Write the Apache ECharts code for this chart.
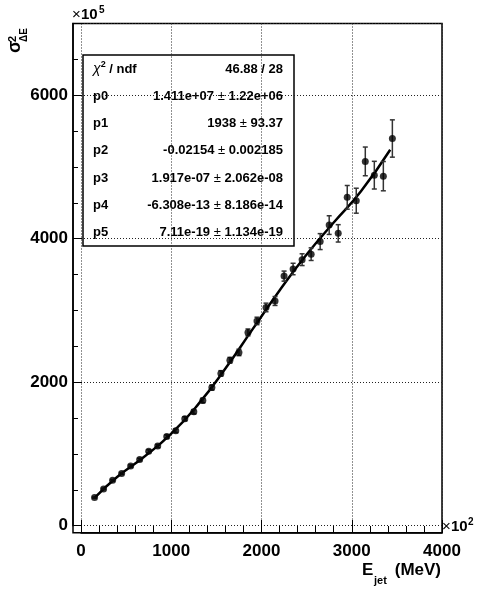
<!DOCTYPE html>
<html>
<head>
<meta charset="utf-8">
<script src="https://cdn.jsdelivr.net/npm/echarts@6/dist/echarts.min.js"></script>
<style>
  html, body { margin: 0; padding: 0; background: #fff; }
  #chart { width: 481px; height: 593px; }
</style>
</head>
<body>
<div id="chart"></div>
<script>
// measured points (x in units of 10^2 MeV, y in units of 10^5)
var energy = [150, 250, 350, 450, 550, 650, 750, 850, 950, 1050, 1150, 1250, 1350, 1450, 1550, 1650, 1750,
  1850, 1950, 2050, 2150, 2250, 2350, 2450, 2550, 2650, 2750, 2850, 2950, 3050, 3150, 3250, 3350, 3450];
var sigma2 = [392, 513, 632, 728, 832, 922, 1038, 1110, 1242, 1324, 1491, 1588, 1745, 1925, 2123, 2306, 2415,
  2694, 2854, 3042, 3132, 3479, 3578, 3708, 3785, 3960, 4190, 4075, 4577, 4530, 5078, 4886, 4872, 5397];
var sigma2Err = [8, 10, 12, 14, 16, 18, 20, 22, 24, 26, 28, 30, 32, 35, 38, 40, 45,
  48, 52, 60, 62, 70, 80, 82, 88, 111, 130, 121, 165, 174, 200, 193, 204, 260];

// fitted curve
var fitX = [150, 400, 700, 1000, 1300, 1600, 1900, 2200, 2500, 2800, 3100, 3426];
var fitY = [389, 679, 960, 1282, 1694, 2191, 2736, 3279, 3779, 4226, 4658, 5240];

var xTickLabels = [0, 1000, 2000, 3000, 4000];
var yTickLabels = [0, 2000, 4000, 6000];

var chi2Text = '46.88 / 28';
var parNames = ['p0', 'p1', 'p2', 'p3', 'p4', 'p5'];
var parValues = ['1.411e+07', '1938', '-0.02154', '1.917e-07', '-6.308e-13', '7.11e-19'];
var parErrors = ['1.22e+06', '93.37', '0.002185', '2.062e-08', '8.186e-14', '1.134e-19'];

var FONT = '"Liberation Sans", Arial, Helvetica, sans-serif';

var chart = echarts.init(document.getElementById('chart'), null, { renderer: 'canvas' });

// stats box
var boxChildren = [{
  type: 'rect',
  shape: { x: 0, y: 0, width: 211, height: 191 },
  style: { fill: '#fff', stroke: '#000', lineWidth: 1.5 }
}, {
  type: 'text', x: 10, y: 14,
  style: {
    text: '{chi|χ}{sup|2}{b| / ndf}',
    verticalAlign: 'middle',
    rich: {
      chi: { fontFamily: FONT, fontSize: 14, fontStyle: 'italic', fill: '#000' },
      sup: { fontFamily: FONT, fontSize: 9, fontWeight: 'bold', padding: [0, 0, 9, 0], fill: '#000' },
      b: { fontFamily: FONT, fontSize: 13, fontWeight: 'bold', fill: '#000' }
    }
  }
}, {
  type: 'text', x: 200, y: 14,
  style: { text: chi2Text, font: 'bold 13px ' + FONT, align: 'right', verticalAlign: 'middle', fill: '#000' }
}];
for (var i = 0; i < parNames.length; i++) {
  var ry = 41.5 + i * 27.2;
  boxChildren.push({
    type: 'text', x: 10, y: ry,
    style: { text: parNames[i], font: 'bold 13px ' + FONT, verticalAlign: 'middle', fill: '#000' }
  });
  boxChildren.push({
    type: 'text', x: 200, y: ry,
    style: {
      text: '{b|' + parValues[i] + '}{pm| ± }{b|' + parErrors[i] + '}',
      align: 'right', verticalAlign: 'middle',
      rich: {
        b: { fontFamily: FONT, fontSize: 13, fontWeight: 'bold', fill: '#000' },
        pm: { fontFamily: FONT, fontSize: 13, fill: '#000' }
      }
    }
  });
}

chart.setOption({
  animation: false,
  backgroundColor: '#fff',
  grid: [
    { left: 81, right: 39, top: 23.5, bottom: 67.3 },
    { left: 73, right: 39, top: 23.5, bottom: 60.3, show: true, borderColor: '#000', borderWidth: 1.5, backgroundColor: 'transparent' }
  ],
  xAxis: [{
    gridIndex: 0, type: 'value', min: 0, max: 4000, interval: 1000, offset: 7.3,
    axisLine: { show: true, onZero: false, lineStyle: { color: '#000', width: 1.5 } },
    axisTick: { show: true, inside: true, length: 13, lineStyle: { color: '#000', width: 1 } },
    minorTick: { show: true, splitNumber: 5, length: 7, lineStyle: { color: '#000', width: 1 } },
    splitLine: { show: true, lineStyle: { color: '#222', width: 1, type: [1, 2] } },
    axisLabel: {
      margin: 10, color: '#000', fontFamily: FONT, fontWeight: 'bold', fontSize: 17,
      showMaxLabel: true,
      formatter: function (v) { return xTickLabels.indexOf(v) >= 0 ? String(v) : ''; }
    }
  }, {
    gridIndex: 1, type: 'value', min: 0, max: 1, show: false
  }],
  yAxis: [{
    gridIndex: 0, type: 'value', min: 0, max: 7000, interval: 2000, offset: 8,
    axisLine: { show: true, onZero: false, lineStyle: { color: '#000', width: 1.5 } },
    axisTick: { show: true, inside: true, length: 9, lineStyle: { color: '#000', width: 1 } },
    minorTick: { show: true, splitNumber: 4, length: 5, lineStyle: { color: '#000', width: 1 } },
    splitLine: { show: true, lineStyle: { color: '#222', width: 1, type: [1, 2] } },
    axisLabel: {
      margin: 5, color: '#000', fontFamily: FONT, fontWeight: 'bold', fontSize: 17,
      formatter: function (v) { return yTickLabels.indexOf(v) >= 0 ? String(v) : ''; }
    }
  }, {
    gridIndex: 1, type: 'value', min: 0, max: 1, show: false
  }],
  series: [{
    name: 'fit',
    type: 'line',
    xAxisIndex: 0, yAxisIndex: 0,
    data: fitX.map(function (x, i) { return [x, fitY[i]]; }),
    smooth: true,
    symbol: 'none',
    lineStyle: { color: '#000', width: 2.5 },
    z: 3
  }, {
    name: 'errors',
    type: 'custom',
    xAxisIndex: 0, yAxisIndex: 0,
    data: energy.map(function (x, i) { return [x, sigma2[i], sigma2Err[i]]; }),
    encode: { x: 0, y: 1 },
    renderItem: function (params, api) {
      var x = api.value(0), y = api.value(1), e = api.value(2);
      var top = api.coord([x, y + e]);
      var bot = api.coord([x, y - e]);
      var hw = 2.5;
      var st = { stroke: '#333', lineWidth: 1.5 };
      return {
        type: 'group',
        children: [
          { type: 'line', shape: { x1: top[0], y1: top[1], x2: bot[0], y2: bot[1] }, style: st },
          { type: 'line', shape: { x1: top[0] - hw, y1: top[1], x2: top[0] + hw, y2: top[1] }, style: st },
          { type: 'line', shape: { x1: bot[0] - hw, y1: bot[1], x2: bot[0] + hw, y2: bot[1] }, style: st }
        ]
      };
    },
    z: 4
  }, {
    name: 'data',
    type: 'scatter',
    xAxisIndex: 0, yAxisIndex: 0,
    data: energy.map(function (x, i) { return [x, sigma2[i]]; }),
    symbol: 'circle',
    symbolSize: 7,
    itemStyle: { color: '#000' },
    z: 5
  }],
  graphic: [
    { type: 'group', x: 83, y: 55, z: 10, children: boxChildren },
    // y axis exponent
    { type: 'text', x: 72, y: 22, style: { text: '×', font: '15px ' + FONT, verticalAlign: 'bottom', fill: '#000' } },
    { type: 'text', x: 81, y: 22, style: { text: '10', font: 'bold 15px ' + FONT, verticalAlign: 'bottom', fill: '#000' } },
    { type: 'text', x: 99, y: 15, style: { text: '5', font: 'bold 10px ' + FONT, verticalAlign: 'bottom', fill: '#000' } },
    // x axis exponent
    { type: 'text', x: 442, y: 534, style: { text: '×', font: '15px ' + FONT, verticalAlign: 'bottom', fill: '#000' } },
    { type: 'text', x: 451, y: 534, style: { text: '10', font: 'bold 15px ' + FONT, verticalAlign: 'bottom', fill: '#000' } },
    { type: 'text', x: 468, y: 527, style: { text: '2', font: 'bold 10px ' + FONT, verticalAlign: 'bottom', fill: '#000' } },
    // x axis title
    { type: 'text', x: 362, y: 579, style: { text: 'E', font: 'bold 17px ' + FONT, verticalAlign: 'bottom', fill: '#000' } },
    { type: 'text', x: 374, y: 586, style: { text: 'jet', font: 'bold 11px ' + FONT, verticalAlign: 'bottom', fill: '#000' } },
    { type: 'text', x: 441, y: 579, style: { text: '(MeV)', font: 'bold 17px ' + FONT, align: 'right', verticalAlign: 'bottom', fill: '#000' } },
    // y axis title, rotated
    {
      type: 'group', x: 24, y: 53, rotation: Math.PI / 2,
      children: [
        { type: 'text', x: 0, y: 0, style: { text: 'σ', font: 'bold 18px ' + FONT, verticalAlign: 'bottom', fill: '#000' } },
        { type: 'text', x: 11, y: -6, style: { text: '2', font: 'bold 11px ' + FONT, verticalAlign: 'bottom', fill: '#000' } },
        { type: 'text', x: 11, y: 5, style: { text: 'ΔE', font: 'bold 10px ' + FONT, verticalAlign: 'bottom', fill: '#000' } }
      ]
    }
  ]
});
</script>
</body>
</html>
